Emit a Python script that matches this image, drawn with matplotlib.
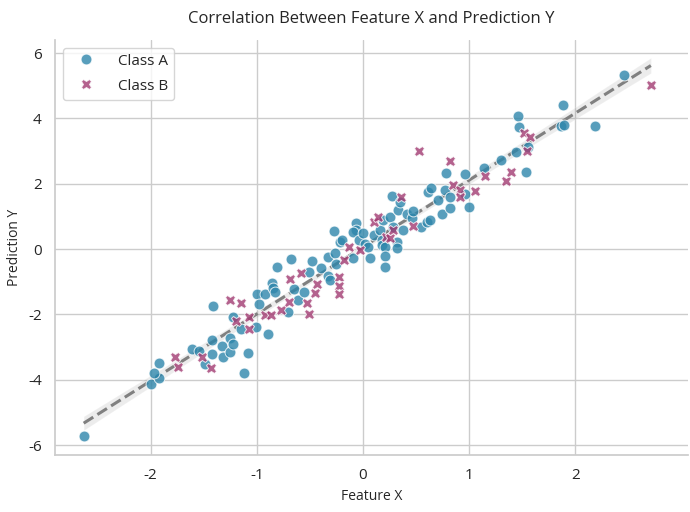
import numpy as np
import matplotlib
matplotlib.use("Agg")
import matplotlib.pyplot as plt
import seaborn as sns

# values
class_a_x = [-2.63, -2.00, -1.92, -1.97, -1.92, -1.61, -1.54, -1.49, -1.42, -1.42,
             -1.33, -1.32, -1.25, -1.25, -1.22, -1.12, -1.08, -1.41, -1.22, -1.15,
             -1.01, -0.89, -1.00, -0.92, -0.98, -0.86, -0.85, -0.83, -0.81, -0.68,
             -0.71, -0.65, -0.61, -0.56, -0.51, -0.48, -0.40, -0.33, -0.33, -0.31,
             -0.26, -0.25, -0.22, -0.27, -0.20, -0.09, -0.07, -0.07, -0.09, -0.04,
             0.00, 0.02, 0.05, 0.07, 0.10, 0.16, 0.18, 0.18, 0.19, 0.21,
             0.21, 0.21, 0.25, 0.27, 0.28, 0.32, 0.32, 0.33, 0.35, 0.38,
             0.41, 0.46, 0.47, 0.55, 0.60, 0.63, 0.61, 0.64, 0.71, 0.74,
             0.77, 0.78, 0.82, 0.82, 0.96, 0.96, 1.00, 1.14, 1.30, 1.44,
             1.53, 1.55, 1.46, 1.47, 1.86, 1.89, 1.88, 2.18, 2.46]
class_a_y = [-5.71, -4.14, -3.94, -3.80, -3.48, -3.06, -3.11, -3.53, -3.21, -2.78,
             -2.97, -3.29, -3.14, -2.73, -2.89, -3.80, -3.19, -1.74, -2.09, -2.43,
             -2.38, -2.61, -1.38, -1.36, -1.68, -1.05, -1.20, -1.30, -0.54, -0.29,
             -1.92, -1.22, -1.56, -1.30, -0.69, -0.36, -0.57, -0.24, -0.82, -0.95,
             -0.13, -0.44, 0.22, 0.56, 0.28, -0.28, 0.80, 0.58, 0.52, 0.28,
             0.50, 0.17, 0.07, -0.27, 0.43, 0.58, 0.28, 0.12, 0.89, 0.07,
             -0.22, -0.54, 0.99, 1.63, 0.68, 0.22, 0.02, 1.19, 1.45, 0.58,
             1.09, 0.94, 1.17, 0.68, 0.82, 0.89, 1.75, 1.86, 1.50, 1.09,
             1.80, 2.33, 1.27, 1.60, 2.29, 1.70, 1.29, 2.47, 2.74, 2.98,
             2.35, 3.13, 4.08, 3.74, 3.76, 3.79, 4.40, 3.76, 5.32]

class_b_x = [-1.77, -1.74, -1.52, -1.43, -1.25, -1.15, -1.20, -1.07, -1.07, -0.92,
             -0.87, -0.77, -0.70, -0.69, -0.58, -0.53, -0.51, -0.43, -0.45, -0.23,
             -0.23, -0.23, -0.18, -0.13, -0.03, 0.10, 0.14, 0.22, 0.25, 0.28,
             0.36, 0.47, 0.53, 0.82, 0.85, 0.91, 0.91, 1.05, 1.15, 1.35,
             1.39, 1.52, 1.57, 1.54, 2.71]
class_b_y = [-3.31, -3.60, -3.31, -3.65, -1.56, -1.64, -2.20, -2.08, -2.43, -2.02,
             -2.02, -1.87, -1.61, -0.92, -0.72, -1.65, -1.97, -1.08, -1.33, -0.85,
             -1.12, -1.36, -0.34, 0.06, -0.03, 0.82, 0.99, 0.38, 0.33, 0.58,
             1.60, 0.72, 3.01, 2.71, 1.97, 1.80, 1.60, 1.79, 2.25, 2.08,
             2.37, 3.56, 3.42, 3.01, 5.02]

color_a = "#2E86AB"
color_b = "#A23B72"

sns.set_theme(style="whitegrid")
plt.rcParams["font.family"] = ["Open Sans", "DejaVu Sans"]
plt.rcParams["axes.unicode_minus"] = False

fig, ax = plt.subplots(figsize=(6.9, 5.12), dpi=100)
fig.subplots_adjust(left=55/690, right=688/690, top=1-40/512, bottom=1-455/512)

# regression line + CI band over both classes
all_x = np.array(class_a_x + class_b_x)
all_y = np.array(class_a_y + class_b_y)
sns.regplot(x=all_x, y=all_y, scatter=False, ax=ax, color="gray", seed=0,
            line_kws={"linestyle": "--", "linewidth": 2.2})

ax.plot(class_a_x, class_a_y, linestyle="none", marker="o", markersize=7.8,
        color=color_a, alpha=0.8, markeredgecolor="white", markeredgewidth=0.7,
        label="Class A", zorder=3)
ax.plot(class_b_x, class_b_y, linestyle="none", marker="X", markersize=7.8,
        color=color_b, alpha=0.8, markeredgecolor="white", markeredgewidth=0.7,
        label="Class B", zorder=3)

ax.set_xlim(-2.9, 3.06)
ax.set_ylim(-6.3, 6.4)
ax.set_xticks([-2, -1, 0, 1, 2])
ax.set_yticks([-6, -4, -2, 0, 2, 4, 6])
ax.tick_params(labelsize=11)
ax.set_title("Correlation Between Feature X and Prediction Y", fontsize=12, pad=12)
ax.set_xlabel("Feature X", fontsize=10)
ax.set_ylabel("Prediction Y", fontsize=10)
ax.legend(loc="upper left", fontsize=11, frameon=True,
          handlelength=2.25, handletextpad=0.95, labelspacing=0.65)
sns.despine(ax=ax)

fig.savefig("out.png", dpi=100)
